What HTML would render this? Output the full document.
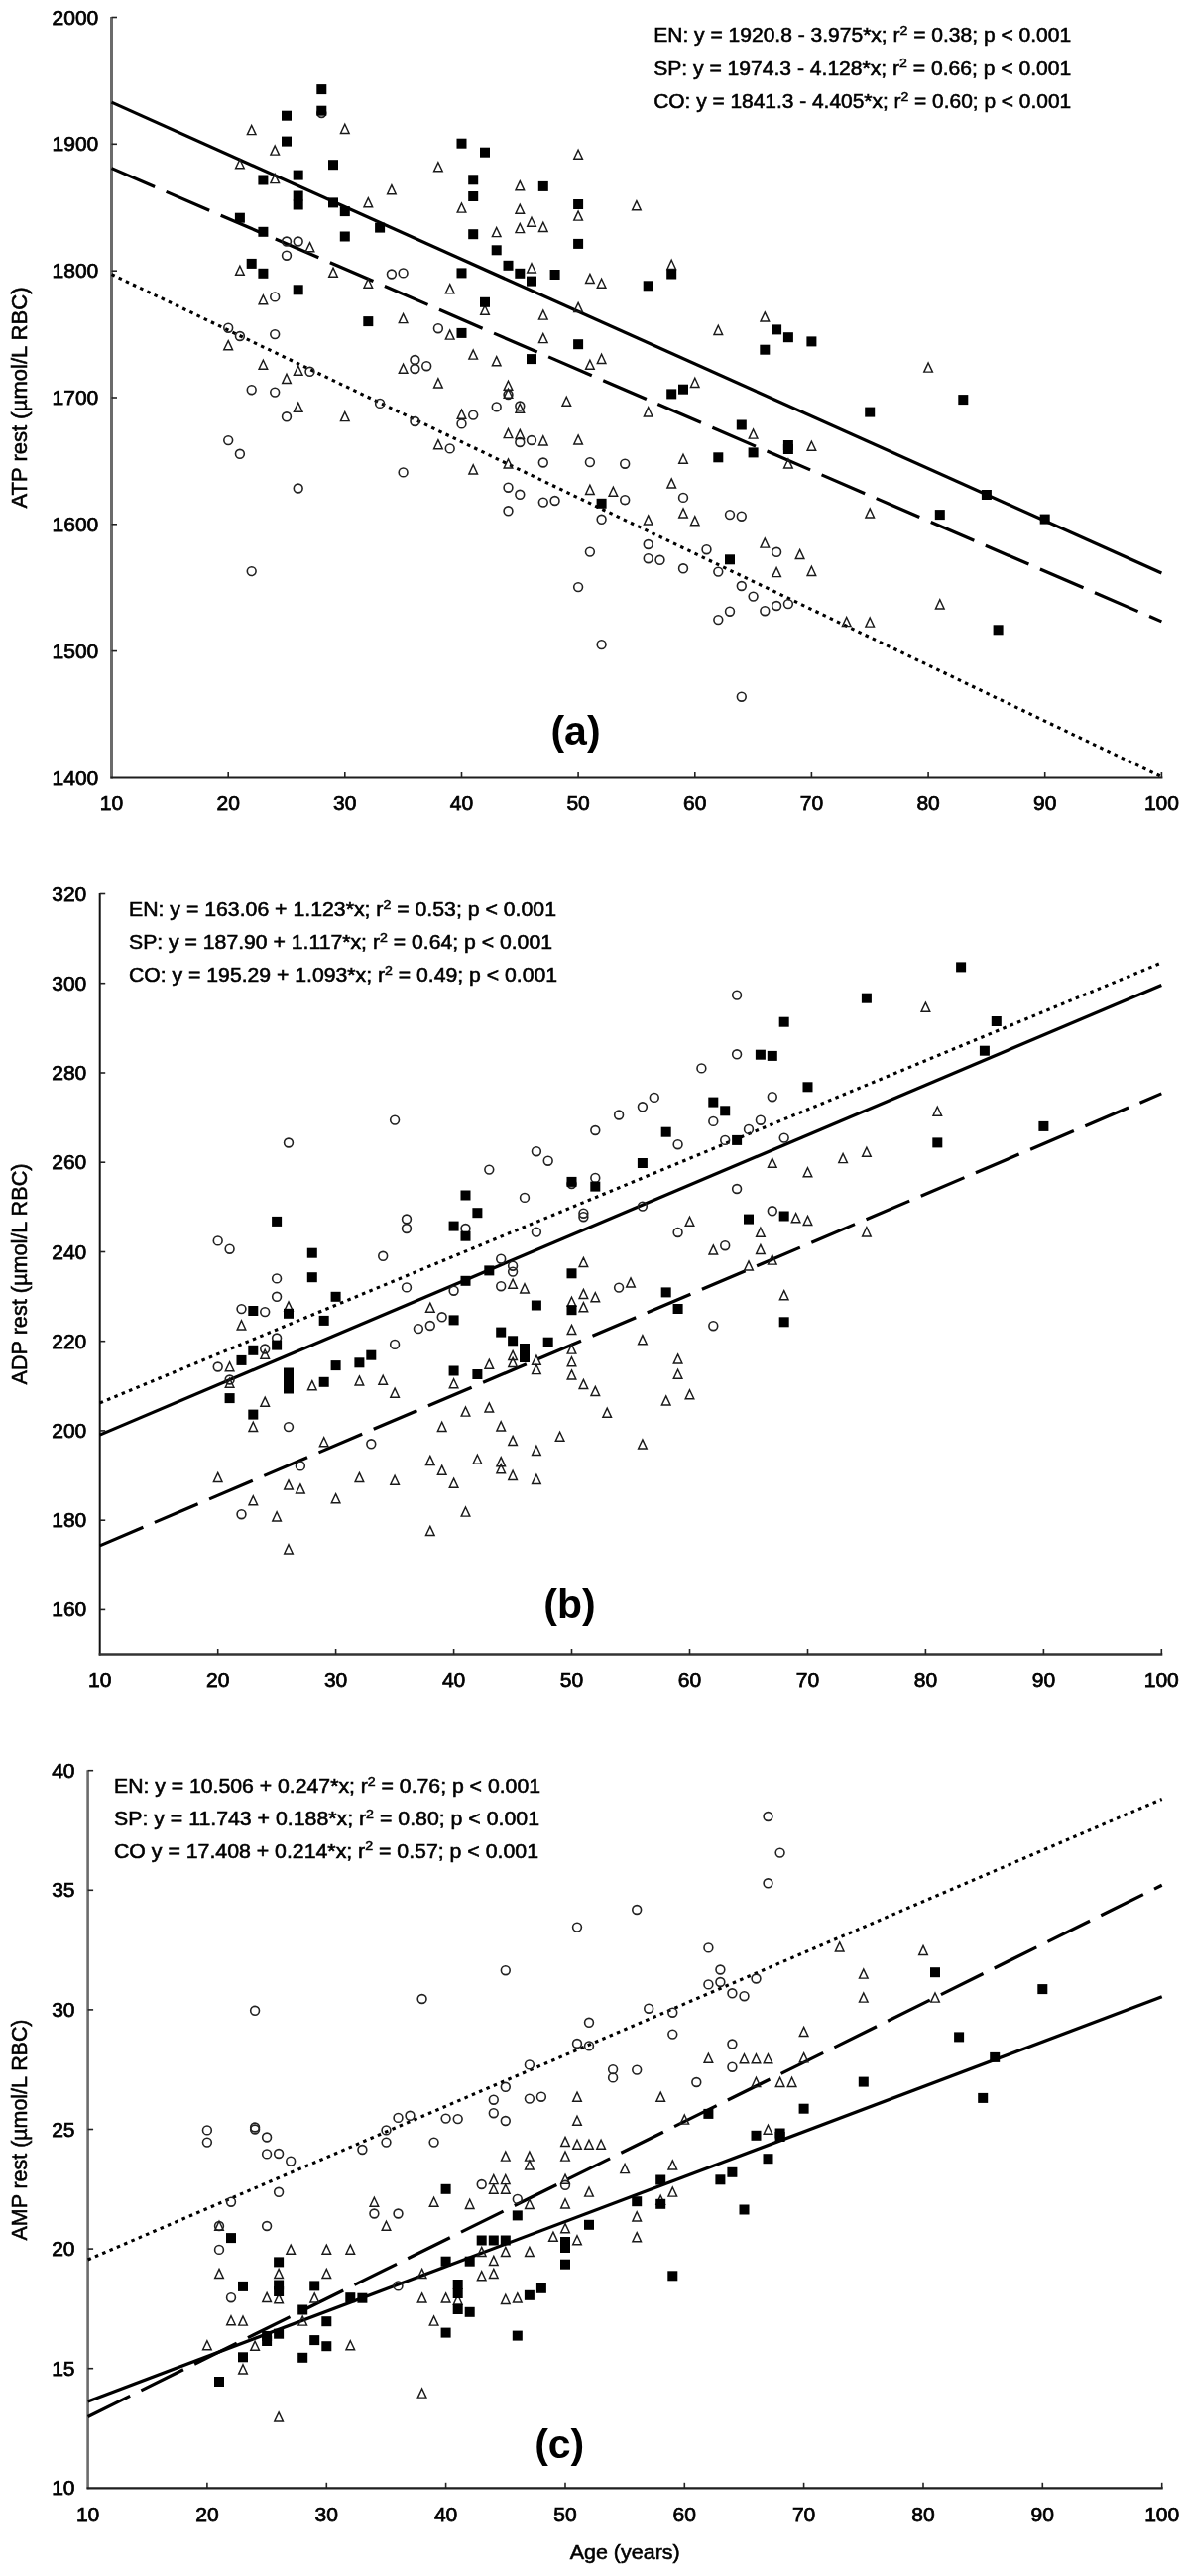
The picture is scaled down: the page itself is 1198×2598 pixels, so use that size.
<!DOCTYPE html><html><head><meta charset="utf-8"><style>html,body{margin:0;padding:0;background:#fff;}svg{display:block;will-change:transform;}text{font-family:"Liberation Sans",sans-serif;fill:#000;}.n{stroke:#000;stroke-width:0.55px;}</style></head><body>
<svg width="1198" height="2598" viewBox="0 0 1198 2598">
<rect width="1198" height="2598" fill="#fff"/>
<line x1="112.5" y1="17.0" x2="112.5" y2="785.5" stroke="#6b6b6b" stroke-width="3.0"/>
<line x1="111.5" y1="784.5" x2="1172.4" y2="784.5" stroke="#1e1e1e" stroke-width="2.2"/>
<line x1="112.5" y1="17.5" x2="118.0" y2="17.5" stroke="#222" stroke-width="1.6"/>
<text class="n" x="99.3" y="24.5" font-size="21" text-anchor="end" style="stroke-width:0.75px">2000</text>
<line x1="112.5" y1="145.3" x2="118.0" y2="145.3" stroke="#222" stroke-width="1.6"/>
<text class="n" x="99.3" y="152.3" font-size="21" text-anchor="end" style="stroke-width:0.75px">1900</text>
<line x1="112.5" y1="273.2" x2="118.0" y2="273.2" stroke="#222" stroke-width="1.6"/>
<text class="n" x="99.3" y="280.2" font-size="21" text-anchor="end" style="stroke-width:0.75px">1800</text>
<line x1="112.5" y1="401.0" x2="118.0" y2="401.0" stroke="#222" stroke-width="1.6"/>
<text class="n" x="99.3" y="408.0" font-size="21" text-anchor="end" style="stroke-width:0.75px">1700</text>
<line x1="112.5" y1="528.8" x2="118.0" y2="528.8" stroke="#222" stroke-width="1.6"/>
<text class="n" x="99.3" y="535.8" font-size="21" text-anchor="end" style="stroke-width:0.75px">1600</text>
<line x1="112.5" y1="656.6" x2="118.0" y2="656.6" stroke="#222" stroke-width="1.6"/>
<text class="n" x="99.3" y="663.6" font-size="21" text-anchor="end" style="stroke-width:0.75px">1500</text>
<text class="n" x="99.3" y="791.5" font-size="21" text-anchor="end" style="stroke-width:0.75px">1400</text>
<text class="n" x="112.5" y="817.2" font-size="21" text-anchor="middle" style="stroke-width:0.75px">10</text>
<line x1="230.2" y1="784.5" x2="230.2" y2="779.0" stroke="#222" stroke-width="1.6"/>
<text class="n" x="230.2" y="817.2" font-size="21" text-anchor="middle" style="stroke-width:0.75px">20</text>
<line x1="347.8" y1="784.5" x2="347.8" y2="779.0" stroke="#222" stroke-width="1.6"/>
<text class="n" x="347.8" y="817.2" font-size="21" text-anchor="middle" style="stroke-width:0.75px">30</text>
<line x1="465.5" y1="784.5" x2="465.5" y2="779.0" stroke="#222" stroke-width="1.6"/>
<text class="n" x="465.5" y="817.2" font-size="21" text-anchor="middle" style="stroke-width:0.75px">40</text>
<line x1="583.1" y1="784.5" x2="583.1" y2="779.0" stroke="#222" stroke-width="1.6"/>
<text class="n" x="583.1" y="817.2" font-size="21" text-anchor="middle" style="stroke-width:0.75px">50</text>
<line x1="700.8" y1="784.5" x2="700.8" y2="779.0" stroke="#222" stroke-width="1.6"/>
<text class="n" x="700.8" y="817.2" font-size="21" text-anchor="middle" style="stroke-width:0.75px">60</text>
<line x1="818.4" y1="784.5" x2="818.4" y2="779.0" stroke="#222" stroke-width="1.6"/>
<text class="n" x="818.4" y="817.2" font-size="21" text-anchor="middle" style="stroke-width:0.75px">70</text>
<line x1="936.1" y1="784.5" x2="936.1" y2="779.0" stroke="#222" stroke-width="1.6"/>
<text class="n" x="936.1" y="817.2" font-size="21" text-anchor="middle" style="stroke-width:0.75px">80</text>
<line x1="1053.7" y1="784.5" x2="1053.7" y2="779.0" stroke="#222" stroke-width="1.6"/>
<text class="n" x="1053.7" y="817.2" font-size="21" text-anchor="middle" style="stroke-width:0.75px">90</text>
<line x1="1171.4" y1="784.5" x2="1171.4" y2="779.0" stroke="#222" stroke-width="1.6"/>
<text class="n" x="1171.4" y="817.2" font-size="21" text-anchor="middle" style="stroke-width:0.75px">100</text>
<line x1="112.5" y1="169.6" x2="1171.4" y2="626.9" stroke="#000" stroke-width="3.2" stroke-dasharray="47.5 12.5"/>
<line x1="112.5" y1="103.1" x2="1171.4" y2="578.0" stroke="#000" stroke-width="3.2" />
<line x1="112.5" y1="276.7" x2="1171.4" y2="783.5" stroke="#000" stroke-width="3.1" stroke-dasharray="3.5 4.45"/>
<circle cx="324.3" cy="114.0" r="4.4" fill="none" stroke="#222" stroke-width="1.6"/>
<circle cx="289.0" cy="243.5" r="4.4" fill="none" stroke="#222" stroke-width="1.6"/>
<circle cx="300.7" cy="243.5" r="4.4" fill="none" stroke="#222" stroke-width="1.6"/>
<circle cx="289.0" cy="257.7" r="4.4" fill="none" stroke="#222" stroke-width="1.6"/>
<circle cx="394.9" cy="276.5" r="4.4" fill="none" stroke="#222" stroke-width="1.6"/>
<circle cx="406.6" cy="275.4" r="4.4" fill="none" stroke="#222" stroke-width="1.6"/>
<circle cx="277.2" cy="299.4" r="4.4" fill="none" stroke="#222" stroke-width="1.6"/>
<circle cx="441.9" cy="331.2" r="4.4" fill="none" stroke="#222" stroke-width="1.6"/>
<circle cx="230.2" cy="330.7" r="4.4" fill="none" stroke="#222" stroke-width="1.6"/>
<circle cx="241.9" cy="339.0" r="4.4" fill="none" stroke="#222" stroke-width="1.6"/>
<circle cx="277.2" cy="337.1" r="4.4" fill="none" stroke="#222" stroke-width="1.6"/>
<circle cx="312.5" cy="374.8" r="4.4" fill="none" stroke="#222" stroke-width="1.6"/>
<circle cx="418.4" cy="363.0" r="4.4" fill="none" stroke="#222" stroke-width="1.6"/>
<circle cx="418.4" cy="372.0" r="4.4" fill="none" stroke="#222" stroke-width="1.6"/>
<circle cx="430.2" cy="369.2" r="4.4" fill="none" stroke="#222" stroke-width="1.6"/>
<circle cx="253.7" cy="393.2" r="4.4" fill="none" stroke="#222" stroke-width="1.6"/>
<circle cx="277.2" cy="395.6" r="4.4" fill="none" stroke="#222" stroke-width="1.6"/>
<circle cx="289.0" cy="420.3" r="4.4" fill="none" stroke="#222" stroke-width="1.6"/>
<circle cx="383.1" cy="406.9" r="4.4" fill="none" stroke="#222" stroke-width="1.6"/>
<circle cx="418.4" cy="425.0" r="4.4" fill="none" stroke="#222" stroke-width="1.6"/>
<circle cx="477.2" cy="418.6" r="4.4" fill="none" stroke="#222" stroke-width="1.6"/>
<circle cx="465.5" cy="427.4" r="4.4" fill="none" stroke="#222" stroke-width="1.6"/>
<circle cx="512.5" cy="398.0" r="4.4" fill="none" stroke="#222" stroke-width="1.6"/>
<circle cx="500.7" cy="410.4" r="4.4" fill="none" stroke="#222" stroke-width="1.6"/>
<circle cx="524.3" cy="409.5" r="4.4" fill="none" stroke="#222" stroke-width="1.6"/>
<circle cx="536.0" cy="444.0" r="4.4" fill="none" stroke="#222" stroke-width="1.6"/>
<circle cx="230.2" cy="444.1" r="4.4" fill="none" stroke="#222" stroke-width="1.6"/>
<circle cx="241.9" cy="457.8" r="4.4" fill="none" stroke="#222" stroke-width="1.6"/>
<circle cx="300.7" cy="492.5" r="4.4" fill="none" stroke="#222" stroke-width="1.6"/>
<circle cx="406.6" cy="476.4" r="4.4" fill="none" stroke="#222" stroke-width="1.6"/>
<circle cx="453.7" cy="452.4" r="4.4" fill="none" stroke="#222" stroke-width="1.6"/>
<circle cx="253.7" cy="576.1" r="4.4" fill="none" stroke="#222" stroke-width="1.6"/>
<circle cx="524.3" cy="446.0" r="4.4" fill="none" stroke="#222" stroke-width="1.6"/>
<circle cx="547.8" cy="466.5" r="4.4" fill="none" stroke="#222" stroke-width="1.6"/>
<circle cx="594.9" cy="466.1" r="4.4" fill="none" stroke="#222" stroke-width="1.6"/>
<circle cx="630.2" cy="467.7" r="4.4" fill="none" stroke="#222" stroke-width="1.6"/>
<circle cx="512.5" cy="491.7" r="4.4" fill="none" stroke="#222" stroke-width="1.6"/>
<circle cx="524.3" cy="498.8" r="4.4" fill="none" stroke="#222" stroke-width="1.6"/>
<circle cx="547.8" cy="506.6" r="4.4" fill="none" stroke="#222" stroke-width="1.6"/>
<circle cx="559.6" cy="505.0" r="4.4" fill="none" stroke="#222" stroke-width="1.6"/>
<circle cx="630.2" cy="504.2" r="4.4" fill="none" stroke="#222" stroke-width="1.6"/>
<circle cx="689.0" cy="501.9" r="4.4" fill="none" stroke="#222" stroke-width="1.6"/>
<circle cx="512.5" cy="515.3" r="4.4" fill="none" stroke="#222" stroke-width="1.6"/>
<circle cx="606.6" cy="523.8" r="4.4" fill="none" stroke="#222" stroke-width="1.6"/>
<circle cx="736.0" cy="519.1" r="4.4" fill="none" stroke="#222" stroke-width="1.6"/>
<circle cx="747.8" cy="520.7" r="4.4" fill="none" stroke="#222" stroke-width="1.6"/>
<circle cx="653.7" cy="549.0" r="4.4" fill="none" stroke="#222" stroke-width="1.6"/>
<circle cx="594.9" cy="556.6" r="4.4" fill="none" stroke="#222" stroke-width="1.6"/>
<circle cx="653.7" cy="563.2" r="4.4" fill="none" stroke="#222" stroke-width="1.6"/>
<circle cx="665.5" cy="564.8" r="4.4" fill="none" stroke="#222" stroke-width="1.6"/>
<circle cx="689.0" cy="573.3" r="4.4" fill="none" stroke="#222" stroke-width="1.6"/>
<circle cx="712.5" cy="554.2" r="4.4" fill="none" stroke="#222" stroke-width="1.6"/>
<circle cx="724.3" cy="576.6" r="4.4" fill="none" stroke="#222" stroke-width="1.6"/>
<circle cx="747.8" cy="591.0" r="4.4" fill="none" stroke="#222" stroke-width="1.6"/>
<circle cx="759.6" cy="601.6" r="4.4" fill="none" stroke="#222" stroke-width="1.6"/>
<circle cx="583.1" cy="592.1" r="4.4" fill="none" stroke="#222" stroke-width="1.6"/>
<circle cx="736.0" cy="616.7" r="4.4" fill="none" stroke="#222" stroke-width="1.6"/>
<circle cx="724.3" cy="625.1" r="4.4" fill="none" stroke="#222" stroke-width="1.6"/>
<circle cx="606.6" cy="650.1" r="4.4" fill="none" stroke="#222" stroke-width="1.6"/>
<circle cx="747.8" cy="702.7" r="4.4" fill="none" stroke="#222" stroke-width="1.6"/>
<circle cx="771.3" cy="616.2" r="4.4" fill="none" stroke="#222" stroke-width="1.6"/>
<circle cx="783.1" cy="611.0" r="4.4" fill="none" stroke="#222" stroke-width="1.6"/>
<circle cx="794.9" cy="609.1" r="4.4" fill="none" stroke="#222" stroke-width="1.6"/>
<circle cx="783.1" cy="556.8" r="4.4" fill="none" stroke="#222" stroke-width="1.6"/>
<path d="M253.7 126.5L258.0 135.6L249.4 135.6Z" fill="none" stroke="#1a1a1a" stroke-width="1.45"/>
<path d="M347.8 125.3L352.1 134.4L343.5 134.4Z" fill="none" stroke="#1a1a1a" stroke-width="1.45"/>
<path d="M277.2 147.0L281.5 156.1L272.9 156.1Z" fill="none" stroke="#1a1a1a" stroke-width="1.45"/>
<path d="M241.9 160.7L246.2 169.8L237.6 169.8Z" fill="none" stroke="#1a1a1a" stroke-width="1.45"/>
<path d="M441.9 163.7L446.2 172.8L437.6 172.8Z" fill="none" stroke="#1a1a1a" stroke-width="1.45"/>
<path d="M277.2 175.5L281.5 184.6L272.9 184.6Z" fill="none" stroke="#1a1a1a" stroke-width="1.45"/>
<path d="M394.9 186.6L399.2 195.7L390.6 195.7Z" fill="none" stroke="#1a1a1a" stroke-width="1.45"/>
<path d="M371.3 199.6L375.6 208.7L367.0 208.7Z" fill="none" stroke="#1a1a1a" stroke-width="1.45"/>
<path d="M465.5 205.0L469.8 214.1L461.2 214.1Z" fill="none" stroke="#1a1a1a" stroke-width="1.45"/>
<path d="M583.1 151.2L587.4 160.3L578.8 160.3Z" fill="none" stroke="#1a1a1a" stroke-width="1.45"/>
<path d="M524.3 182.6L528.6 191.7L520.0 191.7Z" fill="none" stroke="#1a1a1a" stroke-width="1.45"/>
<path d="M524.3 206.2L528.6 215.3L520.0 215.3Z" fill="none" stroke="#1a1a1a" stroke-width="1.45"/>
<path d="M583.1 213.0L587.4 222.1L578.8 222.1Z" fill="none" stroke="#1a1a1a" stroke-width="1.45"/>
<path d="M641.9 202.6L646.2 211.7L637.6 211.7Z" fill="none" stroke="#1a1a1a" stroke-width="1.45"/>
<path d="M536.0 219.2L540.3 228.3L531.7 228.3Z" fill="none" stroke="#1a1a1a" stroke-width="1.45"/>
<path d="M524.3 225.5L528.6 234.6L520.0 234.6Z" fill="none" stroke="#1a1a1a" stroke-width="1.45"/>
<path d="M547.8 224.3L552.1 233.4L543.5 233.4Z" fill="none" stroke="#1a1a1a" stroke-width="1.45"/>
<path d="M500.7 229.5L505.0 238.6L496.4 238.6Z" fill="none" stroke="#1a1a1a" stroke-width="1.45"/>
<path d="M536.0 265.8L540.3 274.9L531.7 274.9Z" fill="none" stroke="#1a1a1a" stroke-width="1.45"/>
<path d="M594.9 276.4L599.2 285.5L590.6 285.5Z" fill="none" stroke="#1a1a1a" stroke-width="1.45"/>
<path d="M606.6 281.2L610.9 290.3L602.3 290.3Z" fill="none" stroke="#1a1a1a" stroke-width="1.45"/>
<path d="M677.2 262.3L681.5 271.4L672.9 271.4Z" fill="none" stroke="#1a1a1a" stroke-width="1.45"/>
<path d="M489.0 308.2L493.3 317.3L484.7 317.3Z" fill="none" stroke="#1a1a1a" stroke-width="1.45"/>
<path d="M583.1 305.4L587.4 314.5L578.8 314.5Z" fill="none" stroke="#1a1a1a" stroke-width="1.45"/>
<path d="M547.8 313.0L552.1 322.1L543.5 322.1Z" fill="none" stroke="#1a1a1a" stroke-width="1.45"/>
<path d="M724.3 328.3L728.6 337.4L720.0 337.4Z" fill="none" stroke="#1a1a1a" stroke-width="1.45"/>
<path d="M547.8 336.5L552.1 345.6L543.5 345.6Z" fill="none" stroke="#1a1a1a" stroke-width="1.45"/>
<path d="M500.7 359.6L505.0 368.7L496.4 368.7Z" fill="none" stroke="#1a1a1a" stroke-width="1.45"/>
<path d="M594.9 363.2L599.2 372.3L590.6 372.3Z" fill="none" stroke="#1a1a1a" stroke-width="1.45"/>
<path d="M606.6 357.3L610.9 366.4L602.3 366.4Z" fill="none" stroke="#1a1a1a" stroke-width="1.45"/>
<path d="M700.8 381.3L705.0 390.4L696.5 390.4Z" fill="none" stroke="#1a1a1a" stroke-width="1.45"/>
<path d="M512.5 384.2L516.8 393.3L508.2 393.3Z" fill="none" stroke="#1a1a1a" stroke-width="1.45"/>
<path d="M512.5 392.2L516.8 401.3L508.2 401.3Z" fill="none" stroke="#1a1a1a" stroke-width="1.45"/>
<path d="M571.3 400.2L575.6 409.3L567.0 409.3Z" fill="none" stroke="#1a1a1a" stroke-width="1.45"/>
<path d="M524.3 407.2L528.6 416.3L520.0 416.3Z" fill="none" stroke="#1a1a1a" stroke-width="1.45"/>
<path d="M653.7 410.8L658.0 419.9L649.4 419.9Z" fill="none" stroke="#1a1a1a" stroke-width="1.45"/>
<path d="M241.9 268.2L246.2 277.3L237.6 277.3Z" fill="none" stroke="#1a1a1a" stroke-width="1.45"/>
<path d="M336.0 270.1L340.3 279.2L331.7 279.2Z" fill="none" stroke="#1a1a1a" stroke-width="1.45"/>
<path d="M371.3 281.2L375.6 290.3L367.0 290.3Z" fill="none" stroke="#1a1a1a" stroke-width="1.45"/>
<path d="M453.7 286.6L458.0 295.7L449.4 295.7Z" fill="none" stroke="#1a1a1a" stroke-width="1.45"/>
<path d="M265.4 297.7L269.7 306.8L261.1 306.8Z" fill="none" stroke="#1a1a1a" stroke-width="1.45"/>
<path d="M406.6 316.5L410.9 325.6L402.3 325.6Z" fill="none" stroke="#1a1a1a" stroke-width="1.45"/>
<path d="M453.7 333.0L458.0 342.1L449.4 342.1Z" fill="none" stroke="#1a1a1a" stroke-width="1.45"/>
<path d="M230.2 343.6L234.5 352.7L225.8 352.7Z" fill="none" stroke="#1a1a1a" stroke-width="1.45"/>
<path d="M477.2 353.0L481.5 362.1L472.9 362.1Z" fill="none" stroke="#1a1a1a" stroke-width="1.45"/>
<path d="M265.4 363.2L269.7 372.3L261.1 372.3Z" fill="none" stroke="#1a1a1a" stroke-width="1.45"/>
<path d="M300.7 369.1L305.0 378.2L296.4 378.2Z" fill="none" stroke="#1a1a1a" stroke-width="1.45"/>
<path d="M289.0 377.3L293.3 386.4L284.7 386.4Z" fill="none" stroke="#1a1a1a" stroke-width="1.45"/>
<path d="M406.6 367.2L410.9 376.3L402.3 376.3Z" fill="none" stroke="#1a1a1a" stroke-width="1.45"/>
<path d="M441.9 381.8L446.2 390.9L437.6 390.9Z" fill="none" stroke="#1a1a1a" stroke-width="1.45"/>
<path d="M300.7 406.1L305.0 415.2L296.4 415.2Z" fill="none" stroke="#1a1a1a" stroke-width="1.45"/>
<path d="M347.8 415.5L352.1 424.6L343.5 424.6Z" fill="none" stroke="#1a1a1a" stroke-width="1.45"/>
<path d="M465.5 413.1L469.8 422.2L461.2 422.2Z" fill="none" stroke="#1a1a1a" stroke-width="1.45"/>
<path d="M312.5 244.6L316.8 253.7L308.2 253.7Z" fill="none" stroke="#1a1a1a" stroke-width="1.45"/>
<path d="M441.9 443.6L446.2 452.7L437.6 452.7Z" fill="none" stroke="#1a1a1a" stroke-width="1.45"/>
<path d="M477.2 468.8L481.5 477.9L472.9 477.9Z" fill="none" stroke="#1a1a1a" stroke-width="1.45"/>
<path d="M512.5 432.5L516.8 441.6L508.2 441.6Z" fill="none" stroke="#1a1a1a" stroke-width="1.45"/>
<path d="M524.3 433.4L528.6 442.5L520.0 442.5Z" fill="none" stroke="#1a1a1a" stroke-width="1.45"/>
<path d="M547.8 439.8L552.1 448.9L543.5 448.9Z" fill="none" stroke="#1a1a1a" stroke-width="1.45"/>
<path d="M583.1 438.9L587.4 448.0L578.8 448.0Z" fill="none" stroke="#1a1a1a" stroke-width="1.45"/>
<path d="M689.0 458.2L693.3 467.3L684.7 467.3Z" fill="none" stroke="#1a1a1a" stroke-width="1.45"/>
<path d="M512.5 462.9L516.8 472.0L508.2 472.0Z" fill="none" stroke="#1a1a1a" stroke-width="1.45"/>
<path d="M677.2 482.9L681.5 492.0L672.9 492.0Z" fill="none" stroke="#1a1a1a" stroke-width="1.45"/>
<path d="M594.9 489.3L599.2 498.4L590.6 498.4Z" fill="none" stroke="#1a1a1a" stroke-width="1.45"/>
<path d="M618.4 491.2L622.7 500.3L614.1 500.3Z" fill="none" stroke="#1a1a1a" stroke-width="1.45"/>
<path d="M653.7 519.9L658.0 529.0L649.4 529.0Z" fill="none" stroke="#1a1a1a" stroke-width="1.45"/>
<path d="M689.0 512.9L693.3 522.0L684.7 522.0Z" fill="none" stroke="#1a1a1a" stroke-width="1.45"/>
<path d="M700.8 520.7L705.0 529.8L696.5 529.8Z" fill="none" stroke="#1a1a1a" stroke-width="1.45"/>
<path d="M771.3 314.9L775.6 324.0L767.0 324.0Z" fill="none" stroke="#1a1a1a" stroke-width="1.45"/>
<path d="M936.1 366.0L940.4 375.1L931.8 375.1Z" fill="none" stroke="#1a1a1a" stroke-width="1.45"/>
<path d="M759.6 433.0L763.9 442.1L755.3 442.1Z" fill="none" stroke="#1a1a1a" stroke-width="1.45"/>
<path d="M794.9 462.9L799.2 472.0L790.6 472.0Z" fill="none" stroke="#1a1a1a" stroke-width="1.45"/>
<path d="M818.4 445.2L822.7 454.3L814.1 454.3Z" fill="none" stroke="#1a1a1a" stroke-width="1.45"/>
<path d="M877.2 512.9L881.5 522.0L872.9 522.0Z" fill="none" stroke="#1a1a1a" stroke-width="1.45"/>
<path d="M771.3 543.0L775.6 552.1L767.0 552.1Z" fill="none" stroke="#1a1a1a" stroke-width="1.45"/>
<path d="M806.6 554.4L810.9 563.5L802.3 563.5Z" fill="none" stroke="#1a1a1a" stroke-width="1.45"/>
<path d="M783.1 572.5L787.4 581.6L778.8 581.6Z" fill="none" stroke="#1a1a1a" stroke-width="1.45"/>
<path d="M818.4 571.3L822.7 580.4L814.1 580.4Z" fill="none" stroke="#1a1a1a" stroke-width="1.45"/>
<path d="M947.8 604.8L952.1 613.9L943.5 613.9Z" fill="none" stroke="#1a1a1a" stroke-width="1.45"/>
<path d="M853.7 622.5L858.0 631.6L849.4 631.6Z" fill="none" stroke="#1a1a1a" stroke-width="1.45"/>
<path d="M877.2 623.0L881.5 632.1L872.9 632.1Z" fill="none" stroke="#1a1a1a" stroke-width="1.45"/>
<rect x="319.3" y="85.1" width="10" height="10" fill="#000"/>
<rect x="319.3" y="106.7" width="10" height="10" fill="#000"/>
<rect x="284.0" y="111.7" width="10" height="10" fill="#000"/>
<rect x="284.0" y="137.6" width="10" height="10" fill="#000"/>
<rect x="460.5" y="139.7" width="10" height="10" fill="#000"/>
<rect x="484.0" y="148.7" width="10" height="10" fill="#000"/>
<rect x="331.0" y="161.2" width="10" height="10" fill="#000"/>
<rect x="260.4" y="176.5" width="10" height="10" fill="#000"/>
<rect x="295.7" y="171.6" width="10" height="10" fill="#000"/>
<rect x="295.7" y="192.5" width="10" height="10" fill="#000"/>
<rect x="295.7" y="201.5" width="10" height="10" fill="#000"/>
<rect x="472.2" y="176.3" width="10" height="10" fill="#000"/>
<rect x="472.2" y="193.0" width="10" height="10" fill="#000"/>
<rect x="331.0" y="199.4" width="10" height="10" fill="#000"/>
<rect x="342.8" y="208.1" width="10" height="10" fill="#000"/>
<rect x="236.9" y="214.7" width="10" height="10" fill="#000"/>
<rect x="260.4" y="228.8" width="10" height="10" fill="#000"/>
<rect x="378.1" y="224.6" width="10" height="10" fill="#000"/>
<rect x="342.8" y="233.5" width="10" height="10" fill="#000"/>
<rect x="472.2" y="231.2" width="10" height="10" fill="#000"/>
<rect x="542.8" y="182.9" width="10" height="10" fill="#000"/>
<rect x="578.1" y="201.0" width="10" height="10" fill="#000"/>
<rect x="495.7" y="247.3" width="10" height="10" fill="#000"/>
<rect x="578.1" y="240.9" width="10" height="10" fill="#000"/>
<rect x="507.5" y="262.8" width="10" height="10" fill="#000"/>
<rect x="519.3" y="270.8" width="10" height="10" fill="#000"/>
<rect x="531.0" y="278.6" width="10" height="10" fill="#000"/>
<rect x="554.6" y="272.0" width="10" height="10" fill="#000"/>
<rect x="648.7" y="283.3" width="10" height="10" fill="#000"/>
<rect x="672.2" y="271.5" width="10" height="10" fill="#000"/>
<rect x="484.0" y="299.8" width="10" height="10" fill="#000"/>
<rect x="248.7" y="260.9" width="10" height="10" fill="#000"/>
<rect x="260.4" y="270.8" width="10" height="10" fill="#000"/>
<rect x="295.7" y="287.3" width="10" height="10" fill="#000"/>
<rect x="366.3" y="319.1" width="10" height="10" fill="#000"/>
<rect x="460.5" y="270.4" width="10" height="10" fill="#000"/>
<rect x="460.5" y="330.9" width="10" height="10" fill="#000"/>
<rect x="578.1" y="342.2" width="10" height="10" fill="#000"/>
<rect x="531.0" y="357.1" width="10" height="10" fill="#000"/>
<rect x="672.2" y="392.4" width="10" height="10" fill="#000"/>
<rect x="684.0" y="387.7" width="10" height="10" fill="#000"/>
<rect x="742.8" y="423.5" width="10" height="10" fill="#000"/>
<rect x="601.6" y="502.8" width="10" height="10" fill="#000"/>
<rect x="719.3" y="456.3" width="10" height="10" fill="#000"/>
<rect x="754.6" y="451.4" width="10" height="10" fill="#000"/>
<rect x="731.0" y="559.3" width="10" height="10" fill="#000"/>
<rect x="778.1" y="327.4" width="10" height="10" fill="#000"/>
<rect x="789.9" y="335.2" width="10" height="10" fill="#000"/>
<rect x="766.3" y="347.7" width="10" height="10" fill="#000"/>
<rect x="813.4" y="339.4" width="10" height="10" fill="#000"/>
<rect x="966.3" y="398.1" width="10" height="10" fill="#000"/>
<rect x="872.2" y="410.6" width="10" height="10" fill="#000"/>
<rect x="789.9" y="444.0" width="10" height="10" fill="#000"/>
<rect x="789.9" y="448.0" width="10" height="10" fill="#000"/>
<rect x="989.9" y="494.0" width="10" height="10" fill="#000"/>
<rect x="942.8" y="514.1" width="10" height="10" fill="#000"/>
<rect x="1048.7" y="518.6" width="10" height="10" fill="#000"/>
<rect x="1001.6" y="630.3" width="10" height="10" fill="#000"/>
<line x1="100.7" y1="901.0" x2="100.7" y2="1669.5" stroke="#111" stroke-width="2.0"/>
<line x1="99.7" y1="1668.5" x2="1172.3" y2="1668.5" stroke="#333" stroke-width="2.4"/>
<line x1="100.7" y1="901.5" x2="106.2" y2="901.5" stroke="#222" stroke-width="1.6"/>
<text class="n" x="87.3" y="908.5" font-size="21" text-anchor="end" style="stroke-width:0.75px">320</text>
<line x1="100.7" y1="991.7" x2="106.2" y2="991.7" stroke="#222" stroke-width="1.6"/>
<text class="n" x="87.3" y="998.7" font-size="21" text-anchor="end" style="stroke-width:0.75px">300</text>
<line x1="100.7" y1="1082.0" x2="106.2" y2="1082.0" stroke="#222" stroke-width="1.6"/>
<text class="n" x="87.3" y="1089.0" font-size="21" text-anchor="end" style="stroke-width:0.75px">280</text>
<line x1="100.7" y1="1172.2" x2="106.2" y2="1172.2" stroke="#222" stroke-width="1.6"/>
<text class="n" x="87.3" y="1179.2" font-size="21" text-anchor="end" style="stroke-width:0.75px">260</text>
<line x1="100.7" y1="1262.5" x2="106.2" y2="1262.5" stroke="#222" stroke-width="1.6"/>
<text class="n" x="87.3" y="1269.5" font-size="21" text-anchor="end" style="stroke-width:0.75px">240</text>
<line x1="100.7" y1="1352.7" x2="106.2" y2="1352.7" stroke="#222" stroke-width="1.6"/>
<text class="n" x="87.3" y="1359.7" font-size="21" text-anchor="end" style="stroke-width:0.75px">220</text>
<line x1="100.7" y1="1442.9" x2="106.2" y2="1442.9" stroke="#222" stroke-width="1.6"/>
<text class="n" x="87.3" y="1449.9" font-size="21" text-anchor="end" style="stroke-width:0.75px">200</text>
<line x1="100.7" y1="1533.2" x2="106.2" y2="1533.2" stroke="#222" stroke-width="1.6"/>
<text class="n" x="87.3" y="1540.2" font-size="21" text-anchor="end" style="stroke-width:0.75px">180</text>
<line x1="100.7" y1="1623.4" x2="106.2" y2="1623.4" stroke="#222" stroke-width="1.6"/>
<text class="n" x="87.3" y="1630.4" font-size="21" text-anchor="end" style="stroke-width:0.75px">160</text>
<text class="n" x="100.7" y="1701.0" font-size="21" text-anchor="middle" style="stroke-width:0.75px">10</text>
<line x1="219.7" y1="1668.5" x2="219.7" y2="1663.0" stroke="#222" stroke-width="1.6"/>
<text class="n" x="219.7" y="1701.0" font-size="21" text-anchor="middle" style="stroke-width:0.75px">20</text>
<line x1="338.6" y1="1668.5" x2="338.6" y2="1663.0" stroke="#222" stroke-width="1.6"/>
<text class="n" x="338.6" y="1701.0" font-size="21" text-anchor="middle" style="stroke-width:0.75px">30</text>
<line x1="457.6" y1="1668.5" x2="457.6" y2="1663.0" stroke="#222" stroke-width="1.6"/>
<text class="n" x="457.6" y="1701.0" font-size="21" text-anchor="middle" style="stroke-width:0.75px">40</text>
<line x1="576.5" y1="1668.5" x2="576.5" y2="1663.0" stroke="#222" stroke-width="1.6"/>
<text class="n" x="576.5" y="1701.0" font-size="21" text-anchor="middle" style="stroke-width:0.75px">50</text>
<line x1="695.5" y1="1668.5" x2="695.5" y2="1663.0" stroke="#222" stroke-width="1.6"/>
<text class="n" x="695.5" y="1701.0" font-size="21" text-anchor="middle" style="stroke-width:0.75px">60</text>
<line x1="814.5" y1="1668.5" x2="814.5" y2="1663.0" stroke="#222" stroke-width="1.6"/>
<text class="n" x="814.5" y="1701.0" font-size="21" text-anchor="middle" style="stroke-width:0.75px">70</text>
<line x1="933.4" y1="1668.5" x2="933.4" y2="1663.0" stroke="#222" stroke-width="1.6"/>
<text class="n" x="933.4" y="1701.0" font-size="21" text-anchor="middle" style="stroke-width:0.75px">80</text>
<line x1="1052.4" y1="1668.5" x2="1052.4" y2="1663.0" stroke="#222" stroke-width="1.6"/>
<text class="n" x="1052.4" y="1701.0" font-size="21" text-anchor="middle" style="stroke-width:0.75px">90</text>
<line x1="1171.3" y1="1668.5" x2="1171.3" y2="1663.0" stroke="#222" stroke-width="1.6"/>
<text class="n" x="1171.3" y="1701.0" font-size="21" text-anchor="middle" style="stroke-width:0.75px">100</text>
<line x1="100.7" y1="1558.9" x2="1171.3" y2="1102.9" stroke="#000" stroke-width="3.2" stroke-dasharray="47.5 12.5"/>
<line x1="100.7" y1="1447.1" x2="1171.3" y2="993.5" stroke="#000" stroke-width="3.2" />
<line x1="100.7" y1="1414.9" x2="1171.3" y2="971.0" stroke="#000" stroke-width="3.1" stroke-dasharray="3.5 4.45"/>
<circle cx="743.1" cy="1003.6" r="4.4" fill="none" stroke="#222" stroke-width="1.6"/>
<circle cx="743.1" cy="1063.3" r="4.4" fill="none" stroke="#222" stroke-width="1.6"/>
<circle cx="707.4" cy="1077.4" r="4.4" fill="none" stroke="#222" stroke-width="1.6"/>
<circle cx="778.8" cy="1106.2" r="4.4" fill="none" stroke="#222" stroke-width="1.6"/>
<circle cx="659.8" cy="1106.9" r="4.4" fill="none" stroke="#222" stroke-width="1.6"/>
<circle cx="647.9" cy="1116.3" r="4.4" fill="none" stroke="#222" stroke-width="1.6"/>
<circle cx="624.1" cy="1124.5" r="4.4" fill="none" stroke="#222" stroke-width="1.6"/>
<circle cx="719.3" cy="1130.9" r="4.4" fill="none" stroke="#222" stroke-width="1.6"/>
<circle cx="766.9" cy="1129.7" r="4.4" fill="none" stroke="#222" stroke-width="1.6"/>
<circle cx="755.0" cy="1138.9" r="4.4" fill="none" stroke="#222" stroke-width="1.6"/>
<circle cx="600.3" cy="1140.0" r="4.4" fill="none" stroke="#222" stroke-width="1.6"/>
<circle cx="398.1" cy="1129.6" r="4.4" fill="none" stroke="#222" stroke-width="1.6"/>
<circle cx="291.0" cy="1152.5" r="4.4" fill="none" stroke="#222" stroke-width="1.6"/>
<circle cx="410.0" cy="1229.5" r="4.4" fill="none" stroke="#222" stroke-width="1.6"/>
<circle cx="410.0" cy="1239.0" r="4.4" fill="none" stroke="#222" stroke-width="1.6"/>
<circle cx="469.5" cy="1239.0" r="4.4" fill="none" stroke="#222" stroke-width="1.6"/>
<circle cx="219.7" cy="1251.4" r="4.4" fill="none" stroke="#222" stroke-width="1.6"/>
<circle cx="231.6" cy="1259.7" r="4.4" fill="none" stroke="#222" stroke-width="1.6"/>
<circle cx="386.2" cy="1266.8" r="4.4" fill="none" stroke="#222" stroke-width="1.6"/>
<circle cx="683.6" cy="1154.2" r="4.4" fill="none" stroke="#222" stroke-width="1.6"/>
<circle cx="731.2" cy="1149.9" r="4.4" fill="none" stroke="#222" stroke-width="1.6"/>
<circle cx="540.9" cy="1161.2" r="4.4" fill="none" stroke="#222" stroke-width="1.6"/>
<circle cx="552.7" cy="1170.7" r="4.4" fill="none" stroke="#222" stroke-width="1.6"/>
<circle cx="493.3" cy="1179.6" r="4.4" fill="none" stroke="#222" stroke-width="1.6"/>
<circle cx="576.5" cy="1194.0" r="4.4" fill="none" stroke="#222" stroke-width="1.6"/>
<circle cx="600.3" cy="1187.9" r="4.4" fill="none" stroke="#222" stroke-width="1.6"/>
<circle cx="743.1" cy="1199.0" r="4.4" fill="none" stroke="#222" stroke-width="1.6"/>
<circle cx="529.0" cy="1207.9" r="4.4" fill="none" stroke="#222" stroke-width="1.6"/>
<circle cx="647.9" cy="1216.6" r="4.4" fill="none" stroke="#222" stroke-width="1.6"/>
<circle cx="588.4" cy="1223.7" r="4.4" fill="none" stroke="#222" stroke-width="1.6"/>
<circle cx="588.4" cy="1227.2" r="4.4" fill="none" stroke="#222" stroke-width="1.6"/>
<circle cx="540.9" cy="1242.6" r="4.4" fill="none" stroke="#222" stroke-width="1.6"/>
<circle cx="683.6" cy="1243.0" r="4.4" fill="none" stroke="#222" stroke-width="1.6"/>
<circle cx="731.2" cy="1256.2" r="4.4" fill="none" stroke="#222" stroke-width="1.6"/>
<circle cx="505.2" cy="1269.7" r="4.4" fill="none" stroke="#222" stroke-width="1.6"/>
<circle cx="517.1" cy="1276.7" r="4.4" fill="none" stroke="#222" stroke-width="1.6"/>
<circle cx="517.1" cy="1282.6" r="4.4" fill="none" stroke="#222" stroke-width="1.6"/>
<circle cx="505.2" cy="1297.2" r="4.4" fill="none" stroke="#222" stroke-width="1.6"/>
<circle cx="624.1" cy="1298.6" r="4.4" fill="none" stroke="#222" stroke-width="1.6"/>
<circle cx="790.7" cy="1147.6" r="4.4" fill="none" stroke="#222" stroke-width="1.6"/>
<circle cx="778.8" cy="1221.3" r="4.4" fill="none" stroke="#222" stroke-width="1.6"/>
<circle cx="279.1" cy="1289.4" r="4.4" fill="none" stroke="#222" stroke-width="1.6"/>
<circle cx="279.1" cy="1307.8" r="4.4" fill="none" stroke="#222" stroke-width="1.6"/>
<circle cx="410.0" cy="1298.4" r="4.4" fill="none" stroke="#222" stroke-width="1.6"/>
<circle cx="457.6" cy="1301.7" r="4.4" fill="none" stroke="#222" stroke-width="1.6"/>
<circle cx="243.5" cy="1320.1" r="4.4" fill="none" stroke="#222" stroke-width="1.6"/>
<circle cx="267.2" cy="1323.1" r="4.4" fill="none" stroke="#222" stroke-width="1.6"/>
<circle cx="445.7" cy="1328.3" r="4.4" fill="none" stroke="#222" stroke-width="1.6"/>
<circle cx="421.9" cy="1340.1" r="4.4" fill="none" stroke="#222" stroke-width="1.6"/>
<circle cx="433.8" cy="1337.0" r="4.4" fill="none" stroke="#222" stroke-width="1.6"/>
<circle cx="279.1" cy="1349.5" r="4.4" fill="none" stroke="#222" stroke-width="1.6"/>
<circle cx="267.2" cy="1360.5" r="4.4" fill="none" stroke="#222" stroke-width="1.6"/>
<circle cx="398.1" cy="1355.9" r="4.4" fill="none" stroke="#222" stroke-width="1.6"/>
<circle cx="219.7" cy="1378.5" r="4.4" fill="none" stroke="#222" stroke-width="1.6"/>
<circle cx="231.6" cy="1391.5" r="4.4" fill="none" stroke="#222" stroke-width="1.6"/>
<circle cx="291.0" cy="1439.1" r="4.4" fill="none" stroke="#222" stroke-width="1.6"/>
<circle cx="374.3" cy="1456.3" r="4.4" fill="none" stroke="#222" stroke-width="1.6"/>
<circle cx="719.3" cy="1337.2" r="4.4" fill="none" stroke="#222" stroke-width="1.6"/>
<circle cx="302.9" cy="1478.4" r="4.4" fill="none" stroke="#222" stroke-width="1.6"/>
<circle cx="243.5" cy="1527.2" r="4.4" fill="none" stroke="#222" stroke-width="1.6"/>
<path d="M933.4 1011.1L937.7 1020.2L929.1 1020.2Z" fill="none" stroke="#1a1a1a" stroke-width="1.45"/>
<path d="M945.3 1116.2L949.6 1125.3L941.0 1125.3Z" fill="none" stroke="#1a1a1a" stroke-width="1.45"/>
<path d="M695.5 1227.2L699.8 1236.3L691.2 1236.3Z" fill="none" stroke="#1a1a1a" stroke-width="1.45"/>
<path d="M719.3 1255.9L723.6 1265.0L715.0 1265.0Z" fill="none" stroke="#1a1a1a" stroke-width="1.45"/>
<path d="M588.4 1268.4L592.7 1277.5L584.1 1277.5Z" fill="none" stroke="#1a1a1a" stroke-width="1.45"/>
<path d="M517.1 1290.1L521.4 1299.2L512.8 1299.2Z" fill="none" stroke="#1a1a1a" stroke-width="1.45"/>
<path d="M529.0 1294.8L533.3 1303.9L524.7 1303.9Z" fill="none" stroke="#1a1a1a" stroke-width="1.45"/>
<path d="M636.0 1288.9L640.3 1298.0L631.7 1298.0Z" fill="none" stroke="#1a1a1a" stroke-width="1.45"/>
<path d="M588.4 1300.4L592.7 1309.5L584.1 1309.5Z" fill="none" stroke="#1a1a1a" stroke-width="1.45"/>
<path d="M600.3 1303.7L604.6 1312.8L596.0 1312.8Z" fill="none" stroke="#1a1a1a" stroke-width="1.45"/>
<path d="M778.8 1168.2L783.1 1177.3L774.5 1177.3Z" fill="none" stroke="#1a1a1a" stroke-width="1.45"/>
<path d="M850.1 1163.5L854.4 1172.6L845.8 1172.6Z" fill="none" stroke="#1a1a1a" stroke-width="1.45"/>
<path d="M873.9 1157.2L878.2 1166.3L869.6 1166.3Z" fill="none" stroke="#1a1a1a" stroke-width="1.45"/>
<path d="M814.5 1177.7L818.8 1186.8L810.2 1186.8Z" fill="none" stroke="#1a1a1a" stroke-width="1.45"/>
<path d="M802.6 1223.6L806.9 1232.7L798.3 1232.7Z" fill="none" stroke="#1a1a1a" stroke-width="1.45"/>
<path d="M814.5 1226.4L818.8 1235.5L810.2 1235.5Z" fill="none" stroke="#1a1a1a" stroke-width="1.45"/>
<path d="M766.9 1238.2L771.2 1247.3L762.6 1247.3Z" fill="none" stroke="#1a1a1a" stroke-width="1.45"/>
<path d="M873.9 1237.8L878.2 1246.9L869.6 1246.9Z" fill="none" stroke="#1a1a1a" stroke-width="1.45"/>
<path d="M766.9 1255.4L771.2 1264.5L762.6 1264.5Z" fill="none" stroke="#1a1a1a" stroke-width="1.45"/>
<path d="M778.8 1266.0L783.1 1275.1L774.5 1275.1Z" fill="none" stroke="#1a1a1a" stroke-width="1.45"/>
<path d="M755.0 1271.9L759.3 1281.0L750.7 1281.0Z" fill="none" stroke="#1a1a1a" stroke-width="1.45"/>
<path d="M790.7 1301.6L795.0 1310.7L786.4 1310.7Z" fill="none" stroke="#1a1a1a" stroke-width="1.45"/>
<path d="M291.0 1312.9L295.3 1322.0L286.7 1322.0Z" fill="none" stroke="#1a1a1a" stroke-width="1.45"/>
<path d="M243.5 1331.8L247.8 1340.9L239.2 1340.9Z" fill="none" stroke="#1a1a1a" stroke-width="1.45"/>
<path d="M433.8 1314.1L438.1 1323.2L429.5 1323.2Z" fill="none" stroke="#1a1a1a" stroke-width="1.45"/>
<path d="M267.2 1361.2L271.5 1370.3L262.9 1370.3Z" fill="none" stroke="#1a1a1a" stroke-width="1.45"/>
<path d="M231.6 1373.7L235.9 1382.8L227.3 1382.8Z" fill="none" stroke="#1a1a1a" stroke-width="1.45"/>
<path d="M231.6 1390.2L235.9 1399.3L227.3 1399.3Z" fill="none" stroke="#1a1a1a" stroke-width="1.45"/>
<path d="M314.8 1392.6L319.1 1401.7L310.5 1401.7Z" fill="none" stroke="#1a1a1a" stroke-width="1.45"/>
<path d="M362.4 1387.9L366.7 1397.0L358.1 1397.0Z" fill="none" stroke="#1a1a1a" stroke-width="1.45"/>
<path d="M386.2 1387.2L390.5 1396.3L381.9 1396.3Z" fill="none" stroke="#1a1a1a" stroke-width="1.45"/>
<path d="M398.1 1400.1L402.4 1409.2L393.8 1409.2Z" fill="none" stroke="#1a1a1a" stroke-width="1.45"/>
<path d="M457.6 1390.7L461.9 1399.8L453.3 1399.8Z" fill="none" stroke="#1a1a1a" stroke-width="1.45"/>
<path d="M267.2 1409.1L271.5 1418.2L262.9 1418.2Z" fill="none" stroke="#1a1a1a" stroke-width="1.45"/>
<path d="M255.3 1434.3L259.6 1443.4L251.0 1443.4Z" fill="none" stroke="#1a1a1a" stroke-width="1.45"/>
<path d="M326.7 1449.7L331.0 1458.8L322.4 1458.8Z" fill="none" stroke="#1a1a1a" stroke-width="1.45"/>
<path d="M469.5 1419.0L473.8 1428.1L465.2 1428.1Z" fill="none" stroke="#1a1a1a" stroke-width="1.45"/>
<path d="M445.7 1434.3L450.0 1443.4L441.4 1443.4Z" fill="none" stroke="#1a1a1a" stroke-width="1.45"/>
<path d="M433.8 1468.4L438.1 1477.5L429.5 1477.5Z" fill="none" stroke="#1a1a1a" stroke-width="1.45"/>
<path d="M481.4 1467.2L485.7 1476.3L477.1 1476.3Z" fill="none" stroke="#1a1a1a" stroke-width="1.45"/>
<path d="M576.5 1308.2L580.8 1317.3L572.2 1317.3Z" fill="none" stroke="#1a1a1a" stroke-width="1.45"/>
<path d="M588.4 1313.6L592.7 1322.7L584.1 1322.7Z" fill="none" stroke="#1a1a1a" stroke-width="1.45"/>
<path d="M576.5 1336.4L580.8 1345.5L572.2 1345.5Z" fill="none" stroke="#1a1a1a" stroke-width="1.45"/>
<path d="M647.9 1346.6L652.2 1355.7L643.6 1355.7Z" fill="none" stroke="#1a1a1a" stroke-width="1.45"/>
<path d="M576.5 1356.0L580.8 1365.1L572.2 1365.1Z" fill="none" stroke="#1a1a1a" stroke-width="1.45"/>
<path d="M517.1 1362.4L521.4 1371.5L512.8 1371.5Z" fill="none" stroke="#1a1a1a" stroke-width="1.45"/>
<path d="M517.1 1369.4L521.4 1378.5L512.8 1378.5Z" fill="none" stroke="#1a1a1a" stroke-width="1.45"/>
<path d="M493.3 1371.1L497.6 1380.2L489.0 1380.2Z" fill="none" stroke="#1a1a1a" stroke-width="1.45"/>
<path d="M540.9 1367.1L545.2 1376.2L536.6 1376.2Z" fill="none" stroke="#1a1a1a" stroke-width="1.45"/>
<path d="M540.9 1376.5L545.2 1385.6L536.6 1385.6Z" fill="none" stroke="#1a1a1a" stroke-width="1.45"/>
<path d="M576.5 1368.7L580.8 1377.8L572.2 1377.8Z" fill="none" stroke="#1a1a1a" stroke-width="1.45"/>
<path d="M576.5 1381.9L580.8 1391.0L572.2 1391.0Z" fill="none" stroke="#1a1a1a" stroke-width="1.45"/>
<path d="M683.6 1365.9L687.9 1375.0L679.3 1375.0Z" fill="none" stroke="#1a1a1a" stroke-width="1.45"/>
<path d="M683.6 1381.2L687.9 1390.3L679.3 1390.3Z" fill="none" stroke="#1a1a1a" stroke-width="1.45"/>
<path d="M588.4 1391.4L592.7 1400.5L584.1 1400.5Z" fill="none" stroke="#1a1a1a" stroke-width="1.45"/>
<path d="M600.3 1398.4L604.6 1407.5L596.0 1407.5Z" fill="none" stroke="#1a1a1a" stroke-width="1.45"/>
<path d="M695.5 1401.7L699.8 1410.8L691.2 1410.8Z" fill="none" stroke="#1a1a1a" stroke-width="1.45"/>
<path d="M671.7 1407.9L676.0 1417.0L667.4 1417.0Z" fill="none" stroke="#1a1a1a" stroke-width="1.45"/>
<path d="M493.3 1414.9L497.6 1424.0L489.0 1424.0Z" fill="none" stroke="#1a1a1a" stroke-width="1.45"/>
<path d="M612.2 1420.1L616.5 1429.2L607.9 1429.2Z" fill="none" stroke="#1a1a1a" stroke-width="1.45"/>
<path d="M505.2 1433.8L509.5 1442.9L500.9 1442.9Z" fill="none" stroke="#1a1a1a" stroke-width="1.45"/>
<path d="M517.1 1448.4L521.4 1457.5L512.8 1457.5Z" fill="none" stroke="#1a1a1a" stroke-width="1.45"/>
<path d="M564.6 1444.2L568.9 1453.3L560.3 1453.3Z" fill="none" stroke="#1a1a1a" stroke-width="1.45"/>
<path d="M647.9 1451.9L652.2 1461.0L643.6 1461.0Z" fill="none" stroke="#1a1a1a" stroke-width="1.45"/>
<path d="M540.9 1458.3L545.2 1467.4L536.6 1467.4Z" fill="none" stroke="#1a1a1a" stroke-width="1.45"/>
<path d="M505.2 1469.6L509.5 1478.7L500.9 1478.7Z" fill="none" stroke="#1a1a1a" stroke-width="1.45"/>
<path d="M505.2 1476.7L509.5 1485.8L500.9 1485.8Z" fill="none" stroke="#1a1a1a" stroke-width="1.45"/>
<path d="M517.1 1483.3L521.4 1492.4L512.8 1492.4Z" fill="none" stroke="#1a1a1a" stroke-width="1.45"/>
<path d="M540.9 1487.3L545.2 1496.4L536.6 1496.4Z" fill="none" stroke="#1a1a1a" stroke-width="1.45"/>
<path d="M219.7 1485.4L224.0 1494.5L215.4 1494.5Z" fill="none" stroke="#1a1a1a" stroke-width="1.45"/>
<path d="M445.7 1478.1L450.0 1487.2L441.4 1487.2Z" fill="none" stroke="#1a1a1a" stroke-width="1.45"/>
<path d="M457.6 1491.1L461.9 1500.2L453.3 1500.2Z" fill="none" stroke="#1a1a1a" stroke-width="1.45"/>
<path d="M291.0 1492.9L295.3 1502.0L286.7 1502.0Z" fill="none" stroke="#1a1a1a" stroke-width="1.45"/>
<path d="M302.9 1496.9L307.2 1506.0L298.6 1506.0Z" fill="none" stroke="#1a1a1a" stroke-width="1.45"/>
<path d="M362.4 1485.4L366.7 1494.5L358.1 1494.5Z" fill="none" stroke="#1a1a1a" stroke-width="1.45"/>
<path d="M398.1 1488.2L402.4 1497.3L393.8 1497.3Z" fill="none" stroke="#1a1a1a" stroke-width="1.45"/>
<path d="M255.3 1508.7L259.6 1517.8L251.0 1517.8Z" fill="none" stroke="#1a1a1a" stroke-width="1.45"/>
<path d="M338.6 1506.6L342.9 1515.7L334.3 1515.7Z" fill="none" stroke="#1a1a1a" stroke-width="1.45"/>
<path d="M279.1 1524.8L283.4 1533.9L274.8 1533.9Z" fill="none" stroke="#1a1a1a" stroke-width="1.45"/>
<path d="M469.5 1520.0L473.8 1529.1L465.2 1529.1Z" fill="none" stroke="#1a1a1a" stroke-width="1.45"/>
<path d="M433.8 1539.4L438.1 1548.5L429.5 1548.5Z" fill="none" stroke="#1a1a1a" stroke-width="1.45"/>
<path d="M291.0 1557.8L295.3 1566.9L286.7 1566.9Z" fill="none" stroke="#1a1a1a" stroke-width="1.45"/>
<rect x="785.7" y="1025.7" width="10" height="10" fill="#000"/>
<rect x="761.9" y="1058.7" width="10" height="10" fill="#000"/>
<rect x="773.8" y="1059.9" width="10" height="10" fill="#000"/>
<rect x="809.5" y="1091.3" width="10" height="10" fill="#000"/>
<rect x="714.3" y="1106.6" width="10" height="10" fill="#000"/>
<rect x="726.2" y="1115.3" width="10" height="10" fill="#000"/>
<rect x="964.1" y="970.4" width="10" height="10" fill="#000"/>
<rect x="868.9" y="1001.7" width="10" height="10" fill="#000"/>
<rect x="999.8" y="1025.0" width="10" height="10" fill="#000"/>
<rect x="987.9" y="1054.7" width="10" height="10" fill="#000"/>
<rect x="1047.4" y="1130.9" width="10" height="10" fill="#000"/>
<rect x="464.5" y="1200.5" width="10" height="10" fill="#000"/>
<rect x="476.4" y="1218.2" width="10" height="10" fill="#000"/>
<rect x="274.1" y="1226.9" width="10" height="10" fill="#000"/>
<rect x="452.6" y="1231.6" width="10" height="10" fill="#000"/>
<rect x="464.5" y="1241.7" width="10" height="10" fill="#000"/>
<rect x="309.8" y="1258.7" width="10" height="10" fill="#000"/>
<rect x="666.7" y="1136.7" width="10" height="10" fill="#000"/>
<rect x="738.1" y="1144.9" width="10" height="10" fill="#000"/>
<rect x="642.9" y="1168.0" width="10" height="10" fill="#000"/>
<rect x="571.5" y="1186.9" width="10" height="10" fill="#000"/>
<rect x="595.3" y="1191.6" width="10" height="10" fill="#000"/>
<rect x="488.3" y="1276.4" width="10" height="10" fill="#000"/>
<rect x="571.5" y="1279.3" width="10" height="10" fill="#000"/>
<rect x="666.7" y="1298.4" width="10" height="10" fill="#000"/>
<rect x="940.3" y="1147.4" width="10" height="10" fill="#000"/>
<rect x="750.0" y="1224.6" width="10" height="10" fill="#000"/>
<rect x="785.7" y="1221.5" width="10" height="10" fill="#000"/>
<rect x="309.8" y="1283.2" width="10" height="10" fill="#000"/>
<rect x="333.6" y="1302.8" width="10" height="10" fill="#000"/>
<rect x="464.5" y="1286.8" width="10" height="10" fill="#000"/>
<rect x="250.3" y="1317.0" width="10" height="10" fill="#000"/>
<rect x="286.0" y="1319.8" width="10" height="10" fill="#000"/>
<rect x="321.7" y="1326.9" width="10" height="10" fill="#000"/>
<rect x="452.6" y="1326.4" width="10" height="10" fill="#000"/>
<rect x="274.1" y="1351.6" width="10" height="10" fill="#000"/>
<rect x="250.3" y="1356.8" width="10" height="10" fill="#000"/>
<rect x="238.5" y="1366.9" width="10" height="10" fill="#000"/>
<rect x="369.3" y="1361.7" width="10" height="10" fill="#000"/>
<rect x="357.4" y="1369.3" width="10" height="10" fill="#000"/>
<rect x="333.6" y="1372.1" width="10" height="10" fill="#000"/>
<rect x="286.0" y="1379.5" width="10" height="10" fill="#000"/>
<rect x="286.0" y="1387.5" width="10" height="10" fill="#000"/>
<rect x="286.0" y="1395.5" width="10" height="10" fill="#000"/>
<rect x="226.6" y="1405.1" width="10" height="10" fill="#000"/>
<rect x="321.7" y="1388.8" width="10" height="10" fill="#000"/>
<rect x="452.6" y="1377.5" width="10" height="10" fill="#000"/>
<rect x="476.4" y="1381.0" width="10" height="10" fill="#000"/>
<rect x="250.3" y="1421.6" width="10" height="10" fill="#000"/>
<rect x="535.9" y="1311.5" width="10" height="10" fill="#000"/>
<rect x="571.5" y="1316.2" width="10" height="10" fill="#000"/>
<rect x="678.6" y="1315.0" width="10" height="10" fill="#000"/>
<rect x="500.2" y="1338.6" width="10" height="10" fill="#000"/>
<rect x="512.1" y="1347.3" width="10" height="10" fill="#000"/>
<rect x="547.7" y="1348.7" width="10" height="10" fill="#000"/>
<rect x="524.0" y="1355.0" width="10" height="10" fill="#000"/>
<rect x="524.0" y="1364.0" width="10" height="10" fill="#000"/>
<rect x="785.7" y="1328.3" width="10" height="10" fill="#000"/>
<line x1="88.6" y1="1785.2" x2="88.6" y2="2510.3" stroke="#6b6b6b" stroke-width="2.6"/>
<line x1="87.6" y1="2509.3" x2="1172.7" y2="2509.3" stroke="#1e1e1e" stroke-width="2.2"/>
<line x1="88.6" y1="1785.7" x2="94.1" y2="1785.7" stroke="#222" stroke-width="1.6"/>
<text class="n" x="75.5" y="1792.7" font-size="21" text-anchor="end" style="stroke-width:0.75px">40</text>
<line x1="88.6" y1="1906.3" x2="94.1" y2="1906.3" stroke="#222" stroke-width="1.6"/>
<text class="n" x="75.5" y="1913.3" font-size="21" text-anchor="end" style="stroke-width:0.75px">35</text>
<line x1="88.6" y1="2026.9" x2="94.1" y2="2026.9" stroke="#222" stroke-width="1.6"/>
<text class="n" x="75.5" y="2033.9" font-size="21" text-anchor="end" style="stroke-width:0.75px">30</text>
<line x1="88.6" y1="2147.5" x2="94.1" y2="2147.5" stroke="#222" stroke-width="1.6"/>
<text class="n" x="75.5" y="2154.5" font-size="21" text-anchor="end" style="stroke-width:0.75px">25</text>
<line x1="88.6" y1="2268.1" x2="94.1" y2="2268.1" stroke="#222" stroke-width="1.6"/>
<text class="n" x="75.5" y="2275.1" font-size="21" text-anchor="end" style="stroke-width:0.75px">20</text>
<line x1="88.6" y1="2388.7" x2="94.1" y2="2388.7" stroke="#222" stroke-width="1.6"/>
<text class="n" x="75.5" y="2395.7" font-size="21" text-anchor="end" style="stroke-width:0.75px">15</text>
<text class="n" x="75.5" y="2516.3" font-size="21" text-anchor="end" style="stroke-width:0.75px">10</text>
<text class="n" x="88.6" y="2542.5" font-size="21" text-anchor="middle" style="stroke-width:0.75px">10</text>
<line x1="208.9" y1="2509.3" x2="208.9" y2="2503.8" stroke="#222" stroke-width="1.6"/>
<text class="n" x="208.9" y="2542.5" font-size="21" text-anchor="middle" style="stroke-width:0.75px">20</text>
<line x1="329.3" y1="2509.3" x2="329.3" y2="2503.8" stroke="#222" stroke-width="1.6"/>
<text class="n" x="329.3" y="2542.5" font-size="21" text-anchor="middle" style="stroke-width:0.75px">30</text>
<line x1="449.6" y1="2509.3" x2="449.6" y2="2503.8" stroke="#222" stroke-width="1.6"/>
<text class="n" x="449.6" y="2542.5" font-size="21" text-anchor="middle" style="stroke-width:0.75px">40</text>
<line x1="570.0" y1="2509.3" x2="570.0" y2="2503.8" stroke="#222" stroke-width="1.6"/>
<text class="n" x="570.0" y="2542.5" font-size="21" text-anchor="middle" style="stroke-width:0.75px">50</text>
<line x1="690.3" y1="2509.3" x2="690.3" y2="2503.8" stroke="#222" stroke-width="1.6"/>
<text class="n" x="690.3" y="2542.5" font-size="21" text-anchor="middle" style="stroke-width:0.75px">60</text>
<line x1="810.6" y1="2509.3" x2="810.6" y2="2503.8" stroke="#222" stroke-width="1.6"/>
<text class="n" x="810.6" y="2542.5" font-size="21" text-anchor="middle" style="stroke-width:0.75px">70</text>
<line x1="931.0" y1="2509.3" x2="931.0" y2="2503.8" stroke="#222" stroke-width="1.6"/>
<text class="n" x="931.0" y="2542.5" font-size="21" text-anchor="middle" style="stroke-width:0.75px">80</text>
<line x1="1051.3" y1="2509.3" x2="1051.3" y2="2503.8" stroke="#222" stroke-width="1.6"/>
<text class="n" x="1051.3" y="2542.5" font-size="21" text-anchor="middle" style="stroke-width:0.75px">90</text>
<line x1="1171.7" y1="2509.3" x2="1171.7" y2="2503.8" stroke="#222" stroke-width="1.6"/>
<text class="n" x="1171.7" y="2542.5" font-size="21" text-anchor="middle" style="stroke-width:0.75px">100</text>
<line x1="88.6" y1="2437.5" x2="1171.7" y2="1901.3" stroke="#000" stroke-width="3.2" stroke-dasharray="47.5 12.5"/>
<line x1="88.6" y1="2421.9" x2="1171.7" y2="2013.8" stroke="#000" stroke-width="3.2" />
<line x1="88.6" y1="2279.0" x2="1171.7" y2="1814.5" stroke="#000" stroke-width="3.1" stroke-dasharray="3.5 4.45"/>
<circle cx="774.5" cy="1899.3" r="4.4" fill="none" stroke="#222" stroke-width="1.6"/>
<circle cx="642.2" cy="1926.0" r="4.4" fill="none" stroke="#222" stroke-width="1.6"/>
<circle cx="582.0" cy="1943.6" r="4.4" fill="none" stroke="#222" stroke-width="1.6"/>
<circle cx="714.4" cy="1964.4" r="4.4" fill="none" stroke="#222" stroke-width="1.6"/>
<circle cx="726.4" cy="1986.5" r="4.4" fill="none" stroke="#222" stroke-width="1.6"/>
<circle cx="714.4" cy="2001.4" r="4.4" fill="none" stroke="#222" stroke-width="1.6"/>
<circle cx="726.4" cy="1999.0" r="4.4" fill="none" stroke="#222" stroke-width="1.6"/>
<circle cx="738.4" cy="2010.3" r="4.4" fill="none" stroke="#222" stroke-width="1.6"/>
<circle cx="750.5" cy="2013.2" r="4.4" fill="none" stroke="#222" stroke-width="1.6"/>
<circle cx="762.5" cy="1995.5" r="4.4" fill="none" stroke="#222" stroke-width="1.6"/>
<circle cx="654.2" cy="2025.7" r="4.4" fill="none" stroke="#222" stroke-width="1.6"/>
<circle cx="678.3" cy="2029.7" r="4.4" fill="none" stroke="#222" stroke-width="1.6"/>
<circle cx="594.0" cy="2039.8" r="4.4" fill="none" stroke="#222" stroke-width="1.6"/>
<circle cx="678.3" cy="2051.6" r="4.4" fill="none" stroke="#222" stroke-width="1.6"/>
<circle cx="582.0" cy="2061.0" r="4.4" fill="none" stroke="#222" stroke-width="1.6"/>
<circle cx="594.0" cy="2063.4" r="4.4" fill="none" stroke="#222" stroke-width="1.6"/>
<circle cx="738.4" cy="2061.5" r="4.4" fill="none" stroke="#222" stroke-width="1.6"/>
<circle cx="257.1" cy="2027.8" r="4.4" fill="none" stroke="#222" stroke-width="1.6"/>
<circle cx="425.6" cy="2016.0" r="4.4" fill="none" stroke="#222" stroke-width="1.6"/>
<circle cx="509.8" cy="1987.2" r="4.4" fill="none" stroke="#222" stroke-width="1.6"/>
<circle cx="208.9" cy="2148.4" r="4.4" fill="none" stroke="#222" stroke-width="1.6"/>
<circle cx="208.9" cy="2160.6" r="4.4" fill="none" stroke="#222" stroke-width="1.6"/>
<circle cx="257.1" cy="2145.5" r="4.4" fill="none" stroke="#222" stroke-width="1.6"/>
<circle cx="257.1" cy="2147.5" r="4.4" fill="none" stroke="#222" stroke-width="1.6"/>
<circle cx="269.1" cy="2155.5" r="4.4" fill="none" stroke="#222" stroke-width="1.6"/>
<circle cx="269.1" cy="2172.4" r="4.4" fill="none" stroke="#222" stroke-width="1.6"/>
<circle cx="281.1" cy="2172.0" r="4.4" fill="none" stroke="#222" stroke-width="1.6"/>
<circle cx="293.2" cy="2179.7" r="4.4" fill="none" stroke="#222" stroke-width="1.6"/>
<circle cx="281.1" cy="2210.8" r="4.4" fill="none" stroke="#222" stroke-width="1.6"/>
<circle cx="233.0" cy="2220.7" r="4.4" fill="none" stroke="#222" stroke-width="1.6"/>
<circle cx="221.0" cy="2245.0" r="4.4" fill="none" stroke="#222" stroke-width="1.6"/>
<circle cx="269.1" cy="2245.0" r="4.4" fill="none" stroke="#222" stroke-width="1.6"/>
<circle cx="365.4" cy="2168.0" r="4.4" fill="none" stroke="#222" stroke-width="1.6"/>
<circle cx="389.5" cy="2148.4" r="4.4" fill="none" stroke="#222" stroke-width="1.6"/>
<circle cx="389.5" cy="2160.6" r="4.4" fill="none" stroke="#222" stroke-width="1.6"/>
<circle cx="401.5" cy="2135.9" r="4.4" fill="none" stroke="#222" stroke-width="1.6"/>
<circle cx="413.5" cy="2133.8" r="4.4" fill="none" stroke="#222" stroke-width="1.6"/>
<circle cx="449.6" cy="2136.6" r="4.4" fill="none" stroke="#222" stroke-width="1.6"/>
<circle cx="461.7" cy="2137.1" r="4.4" fill="none" stroke="#222" stroke-width="1.6"/>
<circle cx="437.6" cy="2160.6" r="4.4" fill="none" stroke="#222" stroke-width="1.6"/>
<circle cx="377.4" cy="2232.5" r="4.4" fill="none" stroke="#222" stroke-width="1.6"/>
<circle cx="401.5" cy="2232.5" r="4.4" fill="none" stroke="#222" stroke-width="1.6"/>
<circle cx="533.9" cy="2082.4" r="4.4" fill="none" stroke="#222" stroke-width="1.6"/>
<circle cx="618.1" cy="2087.1" r="4.4" fill="none" stroke="#222" stroke-width="1.6"/>
<circle cx="618.1" cy="2095.4" r="4.4" fill="none" stroke="#222" stroke-width="1.6"/>
<circle cx="642.2" cy="2087.6" r="4.4" fill="none" stroke="#222" stroke-width="1.6"/>
<circle cx="738.4" cy="2084.7" r="4.4" fill="none" stroke="#222" stroke-width="1.6"/>
<circle cx="509.8" cy="2104.8" r="4.4" fill="none" stroke="#222" stroke-width="1.6"/>
<circle cx="702.3" cy="2100.0" r="4.4" fill="none" stroke="#222" stroke-width="1.6"/>
<circle cx="497.8" cy="2117.7" r="4.4" fill="none" stroke="#222" stroke-width="1.6"/>
<circle cx="533.9" cy="2116.6" r="4.4" fill="none" stroke="#222" stroke-width="1.6"/>
<circle cx="545.9" cy="2114.7" r="4.4" fill="none" stroke="#222" stroke-width="1.6"/>
<circle cx="497.8" cy="2131.2" r="4.4" fill="none" stroke="#222" stroke-width="1.6"/>
<circle cx="509.8" cy="2139.0" r="4.4" fill="none" stroke="#222" stroke-width="1.6"/>
<circle cx="485.7" cy="2203.0" r="4.4" fill="none" stroke="#222" stroke-width="1.6"/>
<circle cx="570.0" cy="2203.8" r="4.4" fill="none" stroke="#222" stroke-width="1.6"/>
<circle cx="521.8" cy="2217.9" r="4.4" fill="none" stroke="#222" stroke-width="1.6"/>
<circle cx="221.0" cy="2268.9" r="4.4" fill="none" stroke="#222" stroke-width="1.6"/>
<circle cx="401.5" cy="2305.4" r="4.4" fill="none" stroke="#222" stroke-width="1.6"/>
<circle cx="233.0" cy="2317.2" r="4.4" fill="none" stroke="#222" stroke-width="1.6"/>
<circle cx="774.5" cy="1832.0" r="4.4" fill="none" stroke="#222" stroke-width="1.6"/>
<circle cx="786.6" cy="1868.6" r="4.4" fill="none" stroke="#222" stroke-width="1.6"/>
<path d="M810.6 2044.4L814.9 2053.5L806.3 2053.5Z" fill="none" stroke="#1a1a1a" stroke-width="1.45"/>
<path d="M846.7 1958.9L851.0 1968.0L842.4 1968.0Z" fill="none" stroke="#1a1a1a" stroke-width="1.45"/>
<path d="M931.0 1962.4L935.3 1971.5L926.7 1971.5Z" fill="none" stroke="#1a1a1a" stroke-width="1.45"/>
<path d="M870.8 1986.0L875.1 1995.1L866.5 1995.1Z" fill="none" stroke="#1a1a1a" stroke-width="1.45"/>
<path d="M870.8 2010.0L875.1 2019.1L866.5 2019.1Z" fill="none" stroke="#1a1a1a" stroke-width="1.45"/>
<path d="M943.0 2010.0L947.3 2019.1L938.7 2019.1Z" fill="none" stroke="#1a1a1a" stroke-width="1.45"/>
<path d="M437.6 2216.2L441.9 2225.3L433.3 2225.3Z" fill="none" stroke="#1a1a1a" stroke-width="1.45"/>
<path d="M377.4 2216.2L381.7 2225.3L373.1 2225.3Z" fill="none" stroke="#1a1a1a" stroke-width="1.45"/>
<path d="M389.5 2240.2L393.8 2249.3L385.2 2249.3Z" fill="none" stroke="#1a1a1a" stroke-width="1.45"/>
<path d="M221.0 2240.2L225.3 2249.3L216.7 2249.3Z" fill="none" stroke="#1a1a1a" stroke-width="1.45"/>
<path d="M714.4 2071.2L718.7 2080.3L710.1 2080.3Z" fill="none" stroke="#1a1a1a" stroke-width="1.45"/>
<path d="M582.0 2110.1L586.3 2119.2L577.7 2119.2Z" fill="none" stroke="#1a1a1a" stroke-width="1.45"/>
<path d="M666.2 2110.1L670.5 2119.2L661.9 2119.2Z" fill="none" stroke="#1a1a1a" stroke-width="1.45"/>
<path d="M582.0 2134.2L586.3 2143.3L577.7 2143.3Z" fill="none" stroke="#1a1a1a" stroke-width="1.45"/>
<path d="M690.3 2133.0L694.6 2142.1L686.0 2142.1Z" fill="none" stroke="#1a1a1a" stroke-width="1.45"/>
<path d="M570.0 2155.4L574.3 2164.5L565.7 2164.5Z" fill="none" stroke="#1a1a1a" stroke-width="1.45"/>
<path d="M582.0 2158.2L586.3 2167.3L577.7 2167.3Z" fill="none" stroke="#1a1a1a" stroke-width="1.45"/>
<path d="M594.0 2158.2L598.3 2167.3L589.7 2167.3Z" fill="none" stroke="#1a1a1a" stroke-width="1.45"/>
<path d="M606.1 2158.2L610.4 2167.3L601.8 2167.3Z" fill="none" stroke="#1a1a1a" stroke-width="1.45"/>
<path d="M509.8 2170.0L514.1 2179.1L505.5 2179.1Z" fill="none" stroke="#1a1a1a" stroke-width="1.45"/>
<path d="M533.9 2170.0L538.2 2179.1L529.6 2179.1Z" fill="none" stroke="#1a1a1a" stroke-width="1.45"/>
<path d="M533.9 2178.9L538.2 2188.0L529.6 2188.0Z" fill="none" stroke="#1a1a1a" stroke-width="1.45"/>
<path d="M570.0 2170.0L574.3 2179.1L565.7 2179.1Z" fill="none" stroke="#1a1a1a" stroke-width="1.45"/>
<path d="M630.1 2182.5L634.4 2191.6L625.8 2191.6Z" fill="none" stroke="#1a1a1a" stroke-width="1.45"/>
<path d="M678.3 2178.9L682.6 2188.0L674.0 2188.0Z" fill="none" stroke="#1a1a1a" stroke-width="1.45"/>
<path d="M497.8 2193.5L502.1 2202.6L493.5 2202.6Z" fill="none" stroke="#1a1a1a" stroke-width="1.45"/>
<path d="M509.8 2193.5L514.1 2202.6L505.5 2202.6Z" fill="none" stroke="#1a1a1a" stroke-width="1.45"/>
<path d="M497.8 2203.2L502.1 2212.3L493.5 2212.3Z" fill="none" stroke="#1a1a1a" stroke-width="1.45"/>
<path d="M509.8 2203.2L514.1 2212.3L505.5 2212.3Z" fill="none" stroke="#1a1a1a" stroke-width="1.45"/>
<path d="M570.0 2193.1L574.3 2202.2L565.7 2202.2Z" fill="none" stroke="#1a1a1a" stroke-width="1.45"/>
<path d="M594.0 2206.0L598.3 2215.1L589.7 2215.1Z" fill="none" stroke="#1a1a1a" stroke-width="1.45"/>
<path d="M678.3 2206.0L682.6 2215.1L674.0 2215.1Z" fill="none" stroke="#1a1a1a" stroke-width="1.45"/>
<path d="M473.7 2218.3L478.0 2227.4L469.4 2227.4Z" fill="none" stroke="#1a1a1a" stroke-width="1.45"/>
<path d="M533.9 2218.3L538.2 2227.4L529.6 2227.4Z" fill="none" stroke="#1a1a1a" stroke-width="1.45"/>
<path d="M570.0 2217.8L574.3 2226.9L565.7 2226.9Z" fill="none" stroke="#1a1a1a" stroke-width="1.45"/>
<path d="M642.2 2230.8L646.5 2239.9L637.9 2239.9Z" fill="none" stroke="#1a1a1a" stroke-width="1.45"/>
<path d="M570.0 2242.6L574.3 2251.7L565.7 2251.7Z" fill="none" stroke="#1a1a1a" stroke-width="1.45"/>
<path d="M750.5 2071.7L754.8 2080.8L746.2 2080.8Z" fill="none" stroke="#1a1a1a" stroke-width="1.45"/>
<path d="M762.5 2071.7L766.8 2080.8L758.2 2080.8Z" fill="none" stroke="#1a1a1a" stroke-width="1.45"/>
<path d="M774.5 2071.7L778.8 2080.8L770.2 2080.8Z" fill="none" stroke="#1a1a1a" stroke-width="1.45"/>
<path d="M810.6 2070.6L814.9 2079.7L806.3 2079.7Z" fill="none" stroke="#1a1a1a" stroke-width="1.45"/>
<path d="M762.5 2095.3L766.8 2104.4L758.2 2104.4Z" fill="none" stroke="#1a1a1a" stroke-width="1.45"/>
<path d="M786.6 2095.3L790.9 2104.4L782.3 2104.4Z" fill="none" stroke="#1a1a1a" stroke-width="1.45"/>
<path d="M798.6 2095.3L802.9 2104.4L794.3 2104.4Z" fill="none" stroke="#1a1a1a" stroke-width="1.45"/>
<path d="M774.5 2143.2L778.8 2152.3L770.2 2152.3Z" fill="none" stroke="#1a1a1a" stroke-width="1.45"/>
<path d="M293.2 2264.1L297.5 2273.2L288.9 2273.2Z" fill="none" stroke="#1a1a1a" stroke-width="1.45"/>
<path d="M329.3 2264.1L333.6 2273.2L325.0 2273.2Z" fill="none" stroke="#1a1a1a" stroke-width="1.45"/>
<path d="M353.3 2264.1L357.6 2273.2L349.0 2273.2Z" fill="none" stroke="#1a1a1a" stroke-width="1.45"/>
<path d="M221.0 2288.4L225.3 2297.5L216.7 2297.5Z" fill="none" stroke="#1a1a1a" stroke-width="1.45"/>
<path d="M281.1 2288.4L285.4 2297.5L276.8 2297.5Z" fill="none" stroke="#1a1a1a" stroke-width="1.45"/>
<path d="M329.3 2288.4L333.6 2297.5L325.0 2297.5Z" fill="none" stroke="#1a1a1a" stroke-width="1.45"/>
<path d="M425.6 2288.4L429.9 2297.5L421.3 2297.5Z" fill="none" stroke="#1a1a1a" stroke-width="1.45"/>
<path d="M269.1 2312.4L273.4 2321.5L264.8 2321.5Z" fill="none" stroke="#1a1a1a" stroke-width="1.45"/>
<path d="M281.1 2313.6L285.4 2322.7L276.8 2322.7Z" fill="none" stroke="#1a1a1a" stroke-width="1.45"/>
<path d="M317.2 2312.9L321.5 2322.0L312.9 2322.0Z" fill="none" stroke="#1a1a1a" stroke-width="1.45"/>
<path d="M425.6 2312.9L429.9 2322.0L421.3 2322.0Z" fill="none" stroke="#1a1a1a" stroke-width="1.45"/>
<path d="M449.6 2312.9L453.9 2322.0L445.3 2322.0Z" fill="none" stroke="#1a1a1a" stroke-width="1.45"/>
<path d="M461.7 2314.8L466.0 2323.9L457.4 2323.9Z" fill="none" stroke="#1a1a1a" stroke-width="1.45"/>
<path d="M233.0 2335.7L237.3 2344.8L228.7 2344.8Z" fill="none" stroke="#1a1a1a" stroke-width="1.45"/>
<path d="M245.0 2336.0L249.3 2345.1L240.7 2345.1Z" fill="none" stroke="#1a1a1a" stroke-width="1.45"/>
<path d="M305.2 2336.0L309.5 2345.1L300.9 2345.1Z" fill="none" stroke="#1a1a1a" stroke-width="1.45"/>
<path d="M437.6 2336.0L441.9 2345.1L433.3 2345.1Z" fill="none" stroke="#1a1a1a" stroke-width="1.45"/>
<path d="M208.9 2360.7L213.2 2369.8L204.6 2369.8Z" fill="none" stroke="#1a1a1a" stroke-width="1.45"/>
<path d="M257.1 2361.2L261.4 2370.3L252.8 2370.3Z" fill="none" stroke="#1a1a1a" stroke-width="1.45"/>
<path d="M353.3 2360.7L357.6 2369.8L349.0 2369.8Z" fill="none" stroke="#1a1a1a" stroke-width="1.45"/>
<path d="M245.0 2384.8L249.3 2393.9L240.7 2393.9Z" fill="none" stroke="#1a1a1a" stroke-width="1.45"/>
<path d="M425.6 2409.0L429.9 2418.1L421.3 2418.1Z" fill="none" stroke="#1a1a1a" stroke-width="1.45"/>
<path d="M557.9 2251.1L562.2 2260.2L553.6 2260.2Z" fill="none" stroke="#1a1a1a" stroke-width="1.45"/>
<path d="M582.0 2254.7L586.3 2263.8L577.7 2263.8Z" fill="none" stroke="#1a1a1a" stroke-width="1.45"/>
<path d="M642.2 2251.6L646.5 2260.7L637.9 2260.7Z" fill="none" stroke="#1a1a1a" stroke-width="1.45"/>
<path d="M485.7 2266.4L490.0 2275.5L481.4 2275.5Z" fill="none" stroke="#1a1a1a" stroke-width="1.45"/>
<path d="M509.8 2266.4L514.1 2275.5L505.5 2275.5Z" fill="none" stroke="#1a1a1a" stroke-width="1.45"/>
<path d="M533.9 2266.4L538.2 2275.5L529.6 2275.5Z" fill="none" stroke="#1a1a1a" stroke-width="1.45"/>
<path d="M497.8 2275.4L502.1 2284.5L493.5 2284.5Z" fill="none" stroke="#1a1a1a" stroke-width="1.45"/>
<path d="M485.7 2290.7L490.0 2299.8L481.4 2299.8Z" fill="none" stroke="#1a1a1a" stroke-width="1.45"/>
<path d="M497.8 2288.4L502.1 2297.5L493.5 2297.5Z" fill="none" stroke="#1a1a1a" stroke-width="1.45"/>
<path d="M509.8 2314.3L514.1 2323.4L505.5 2323.4Z" fill="none" stroke="#1a1a1a" stroke-width="1.45"/>
<path d="M521.8 2312.9L526.1 2322.0L517.5 2322.0Z" fill="none" stroke="#1a1a1a" stroke-width="1.45"/>
<path d="M281.1 2432.9L285.4 2442.0L276.8 2442.0Z" fill="none" stroke="#1a1a1a" stroke-width="1.45"/>
<path d="M666.2 2214.2L670.5 2223.3L661.9 2223.3Z" fill="none" stroke="#1a1a1a" stroke-width="1.45"/>
<rect x="938.0" y="1984.2" width="10" height="10" fill="#000"/>
<rect x="1046.3" y="2001.1" width="10" height="10" fill="#000"/>
<rect x="962.1" y="2049.4" width="10" height="10" fill="#000"/>
<rect x="709.4" y="2126.9" width="10" height="10" fill="#000"/>
<rect x="661.2" y="2193.5" width="10" height="10" fill="#000"/>
<rect x="721.4" y="2193.3" width="10" height="10" fill="#000"/>
<rect x="733.4" y="2185.8" width="10" height="10" fill="#000"/>
<rect x="516.8" y="2229.4" width="10" height="10" fill="#000"/>
<rect x="637.2" y="2215.2" width="10" height="10" fill="#000"/>
<rect x="661.2" y="2217.8" width="10" height="10" fill="#000"/>
<rect x="589.0" y="2238.8" width="10" height="10" fill="#000"/>
<rect x="444.6" y="2202.8" width="10" height="10" fill="#000"/>
<rect x="228.0" y="2252.1" width="10" height="10" fill="#000"/>
<rect x="998.2" y="2069.9" width="10" height="10" fill="#000"/>
<rect x="865.8" y="2094.6" width="10" height="10" fill="#000"/>
<rect x="986.2" y="2110.9" width="10" height="10" fill="#000"/>
<rect x="805.6" y="2121.7" width="10" height="10" fill="#000"/>
<rect x="757.5" y="2148.8" width="10" height="10" fill="#000"/>
<rect x="781.6" y="2146.5" width="10" height="10" fill="#000"/>
<rect x="781.6" y="2150.0" width="10" height="10" fill="#000"/>
<rect x="769.5" y="2172.2" width="10" height="10" fill="#000"/>
<rect x="745.5" y="2223.5" width="10" height="10" fill="#000"/>
<rect x="276.1" y="2276.4" width="10" height="10" fill="#000"/>
<rect x="240.0" y="2300.9" width="10" height="10" fill="#000"/>
<rect x="276.1" y="2299.5" width="10" height="10" fill="#000"/>
<rect x="276.1" y="2306.0" width="10" height="10" fill="#000"/>
<rect x="312.2" y="2300.4" width="10" height="10" fill="#000"/>
<rect x="444.6" y="2275.7" width="10" height="10" fill="#000"/>
<rect x="348.3" y="2312.2" width="10" height="10" fill="#000"/>
<rect x="360.4" y="2312.7" width="10" height="10" fill="#000"/>
<rect x="456.7" y="2299.0" width="10" height="10" fill="#000"/>
<rect x="456.7" y="2308.0" width="10" height="10" fill="#000"/>
<rect x="456.7" y="2324.0" width="10" height="10" fill="#000"/>
<rect x="300.2" y="2324.5" width="10" height="10" fill="#000"/>
<rect x="324.3" y="2336.2" width="10" height="10" fill="#000"/>
<rect x="444.6" y="2347.6" width="10" height="10" fill="#000"/>
<rect x="264.1" y="2351.0" width="10" height="10" fill="#000"/>
<rect x="264.1" y="2356.0" width="10" height="10" fill="#000"/>
<rect x="276.1" y="2348.7" width="10" height="10" fill="#000"/>
<rect x="312.2" y="2355.1" width="10" height="10" fill="#000"/>
<rect x="324.3" y="2361.2" width="10" height="10" fill="#000"/>
<rect x="240.0" y="2372.3" width="10" height="10" fill="#000"/>
<rect x="300.2" y="2372.8" width="10" height="10" fill="#000"/>
<rect x="216.0" y="2397.0" width="10" height="10" fill="#000"/>
<rect x="480.7" y="2254.5" width="10" height="10" fill="#000"/>
<rect x="492.8" y="2254.5" width="10" height="10" fill="#000"/>
<rect x="504.8" y="2254.5" width="10" height="10" fill="#000"/>
<rect x="565.0" y="2256.0" width="10" height="10" fill="#000"/>
<rect x="565.0" y="2262.0" width="10" height="10" fill="#000"/>
<rect x="468.7" y="2275.7" width="10" height="10" fill="#000"/>
<rect x="565.0" y="2278.7" width="10" height="10" fill="#000"/>
<rect x="673.3" y="2290.3" width="10" height="10" fill="#000"/>
<rect x="540.9" y="2302.8" width="10" height="10" fill="#000"/>
<rect x="528.9" y="2309.8" width="10" height="10" fill="#000"/>
<rect x="468.7" y="2326.8" width="10" height="10" fill="#000"/>
<rect x="516.8" y="2350.6" width="10" height="10" fill="#000"/>
<text class="n" x="659.2" y="42.3" font-size="19.5" textLength="421" lengthAdjust="spacingAndGlyphs">EN: y = 1920.8 - 3.975*x; r<tspan dy="-7.5" font-size="13">2</tspan><tspan dy="7.5"> = 0.38; p &lt; 0.001</tspan></text>
<text class="n" x="659.2" y="75.8" font-size="19.5" textLength="421" lengthAdjust="spacingAndGlyphs">SP: y = 1974.3 - 4.128*x; r<tspan dy="-7.5" font-size="13">2</tspan><tspan dy="7.5"> = 0.66; p &lt; 0.001</tspan></text>
<text class="n" x="659.2" y="109.3" font-size="19.5" textLength="421" lengthAdjust="spacingAndGlyphs">CO: y = 1841.3 - 4.405*x; r<tspan dy="-7.5" font-size="13">2</tspan><tspan dy="7.5"> = 0.60; p &lt; 0.001</tspan></text>
<text class="n" x="130.0" y="924.2" font-size="19.5" textLength="431" lengthAdjust="spacingAndGlyphs">EN: y = 163.06 + 1.123*x; r<tspan dy="-7.5" font-size="13">2</tspan><tspan dy="7.5"> = 0.53; p &lt; 0.001</tspan></text>
<text class="n" x="130.0" y="957.4" font-size="19.5" textLength="427" lengthAdjust="spacingAndGlyphs">SP: y = 187.90 + 1.117*x; r<tspan dy="-7.5" font-size="13">2</tspan><tspan dy="7.5"> = 0.64; p &lt; 0.001</tspan></text>
<text class="n" x="130.0" y="990.0" font-size="19.5" textLength="432" lengthAdjust="spacingAndGlyphs">CO: y = 195.29 + 1.093*x; r<tspan dy="-7.5" font-size="13">2</tspan><tspan dy="7.5"> = 0.49; p &lt; 0.001</tspan></text>
<text class="n" x="115.0" y="1808.4" font-size="19.5" textLength="430" lengthAdjust="spacingAndGlyphs">EN: y = 10.506 + 0.247*x; r<tspan dy="-7.5" font-size="13">2</tspan><tspan dy="7.5"> = 0.76; p &lt; 0.001</tspan></text>
<text class="n" x="115.0" y="1841.2" font-size="19.5" textLength="429" lengthAdjust="spacingAndGlyphs">SP: y = 11.743 + 0.188*x; r<tspan dy="-7.5" font-size="13">2</tspan><tspan dy="7.5"> = 0.80; p &lt; 0.001</tspan></text>
<text class="n" x="115.0" y="1873.5" font-size="19.5" textLength="428" lengthAdjust="spacingAndGlyphs">CO y = 17.408 + 0.214*x; r<tspan dy="-7.5" font-size="13">2</tspan><tspan dy="7.5"> = 0.57; p &lt; 0.001</tspan></text>
<text class="n" transform="translate(26.8 401) rotate(-90)" x="0" y="0" font-size="22.5" text-anchor="middle" textLength="223" lengthAdjust="spacingAndGlyphs">ATP rest  (µmol/L RBC)</text>
<text class="n" transform="translate(26.8 1285) rotate(-90)" x="0" y="0" font-size="22.5" text-anchor="middle" textLength="223" lengthAdjust="spacingAndGlyphs">ADP rest  (µmol/L RBC)</text>
<text class="n" transform="translate(26.8 2148) rotate(-90)" x="0" y="0" font-size="22.5" text-anchor="middle" textLength="223" lengthAdjust="spacingAndGlyphs">AMP rest  (µmol/L RBC)</text>
<text x="580.5" y="750.5" font-size="41" font-weight="bold" text-anchor="middle">(a)</text>
<text x="574.5" y="1631.6" font-size="41" font-weight="bold" text-anchor="middle">(b)</text>
<text x="564.2" y="2479" font-size="41" font-weight="bold" text-anchor="middle">(c)</text>
<text class="n" x="630.2" y="2581.3" font-size="20.5" text-anchor="middle" textLength="111" lengthAdjust="spacingAndGlyphs">Age (years)</text>
</svg></body></html>
